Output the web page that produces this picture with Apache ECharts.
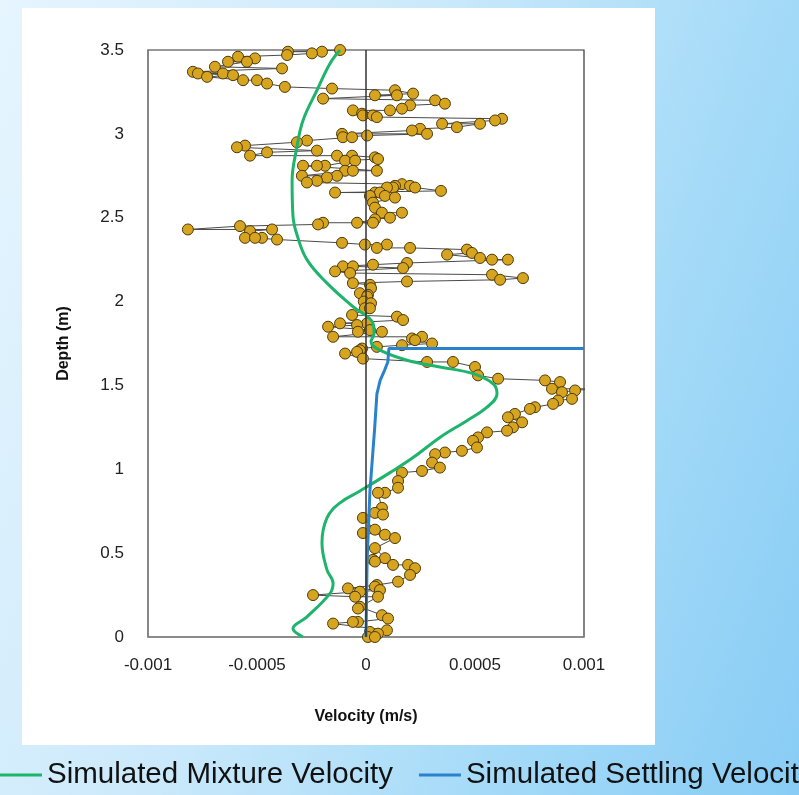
<!DOCTYPE html>
<html>
<head>
<meta charset="utf-8">
<script src="https://cdn.jsdelivr.net/npm/echarts@6/dist/echarts.min.js"></script>
<style>
  html, body { margin: 0; padding: 0; width: 799px; height: 795px; overflow: hidden; }
  body { background: linear-gradient(110deg, #e6f5fe 0%, #cbe9fb 40%, #a6dbf8 70%, #88ccf5 100%); position: relative; }
  #panel { position: absolute; left: 22px; top: 8px; width: 633px; height: 737px; background: #ffffff; }
  #chart { position: absolute; left: 0; top: 0; width: 799px; height: 795px; }
</style>
</head>
<body>
<div id="panel"></div>
<div id="chart"></div>
<script>
// Axis ticks
const xTickLabels = ['-0.001', '-0.0005', '0', '0.0005', '0.001'];
const yTickLabels = ['0', '0.5', '1', '1.5', '2', '2.5', '3', '3.5'];

// Measured velocity profile (depth in m, velocity in m/s), ordered from surface downwards
const measuredDepth = [
  3.50, 3.49, 3.49, 3.48, 3.47, 3.46, 3.45, 3.43, 3.43, 3.40,
  3.39, 3.37, 3.36, 3.36, 3.35, 3.34, 3.32, 3.32, 3.30, 3.28,
  3.27, 3.26, 3.24, 3.23, 3.23, 3.21, 3.20, 3.18, 3.17, 3.15,
  3.14, 3.14, 3.12, 3.11, 3.11, 3.10, 3.09, 3.08, 3.06, 3.06,
  3.04, 3.03, 3.02, 3.00, 3.00, 2.99, 2.98, 2.98, 2.96, 2.95,
  2.93, 2.92, 2.90, 2.89, 2.87, 2.87, 2.87, 2.86, 2.85, 2.84,
  2.84, 2.81, 2.81, 2.81, 2.78, 2.78, 2.78, 2.75, 2.75, 2.74,
  2.72, 2.71, 2.70, 2.69, 2.69, 2.68, 2.68, 2.68, 2.66, 2.65,
  2.65, 2.65, 2.63, 2.63, 2.62, 2.59, 2.56, 2.53, 2.53, 2.50,
  2.49, 2.47, 2.47, 2.47, 2.46, 2.45, 2.43, 2.43, 2.42, 2.38,
  2.38, 2.38, 2.37, 2.35, 2.34, 2.34, 2.32, 2.32, 2.31, 2.29,
  2.28, 2.26, 2.25, 2.25, 2.23, 2.22, 2.21, 2.21, 2.20, 2.18,
  2.17, 2.16, 2.14, 2.13, 2.12, 2.11, 2.10, 2.08, 2.05, 2.04,
  2.03, 2.00, 1.99, 1.96, 1.96, 1.92, 1.91, 1.89, 1.87, 1.87,
  1.86, 1.85, 1.83, 1.82, 1.82, 1.79, 1.79, 1.78, 1.77, 1.75,
  1.74, 1.73, 1.72, 1.71, 1.70, 1.69, 1.66, 1.64, 1.64, 1.61,
  1.56, 1.54, 1.53, 1.52, 1.48, 1.48, 1.47, 1.46, 1.42, 1.41,
  1.39, 1.37, 1.36, 1.33, 1.31, 1.28, 1.25, 1.23, 1.22, 1.19,
  1.17, 1.13, 1.11, 1.10, 1.09, 1.04, 1.01, 0.99, 0.98, 0.93,
  0.89, 0.86, 0.86, 0.77, 0.74, 0.73, 0.71, 0.64, 0.62, 0.61,
  0.59, 0.53, 0.47, 0.46, 0.45, 0.43, 0.43, 0.41, 0.37, 0.33,
  0.31, 0.30, 0.29, 0.28, 0.27, 0.25, 0.24, 0.24, 0.18, 0.17,
  0.13, 0.11, 0.09, 0.09, 0.08, 0.04, 0.03, 0.02, 0.00, 0.00
];
const measuredVelocity = [
  -0.000119, -0.000358, -0.000202, -0.000248, -0.000362, -0.000587, -0.000509, -0.000633, -0.000546, -0.000693,
  -0.000385, -0.000794, -0.000656, -0.000771, -0.000610, -0.000729, -0.000564, -0.000500, -0.000454, -0.000372,
  -0.000156, 0.000133, 0.000216, 0.000041, 0.000142, -0.000197, 0.000317, 0.000362, 0.000202, 0.000165,
  0.000110, -0.000060, -0.000018, -0.000014, 0.000032, 0.000050, 0.000624, 0.000592, 0.000349, 0.000523,
  0.000417, 0.000248, 0.000211, -0.000110, 0.000280, 0.000005, -0.000106, -0.000064, -0.000271, -0.000317,
  -0.000555, -0.000592, -0.000225, -0.000454, -0.000532, -0.000133, -0.000064, 0.000041, 0.000055, -0.000096,
  -0.000050, -0.000188, -0.000225, -0.000289, 0.000050, -0.000096, -0.000060, -0.000294, -0.000133, -0.000179,
  -0.000225, -0.000271, 0.000165, 0.000133, 0.000202, 0.000124, 0.000096, 0.000225, 0.000344, -0.000142,
  0.000041, 0.000064, 0.000018, 0.000087, 0.000133, 0.000032, 0.000041, 0.000073, 0.000165, 0.000110,
  0.000041, -0.000041, 0.000032, -0.000197, -0.000220, -0.000578, -0.000817, -0.000431, -0.000532, -0.000477,
  -0.000555, -0.000509, -0.000408, -0.000110, -0.000005, 0.000096, 0.000050, 0.000202, 0.000463, 0.000486,
  0.000372, 0.000523, 0.000578, 0.000651, 0.000188, 0.000032, -0.000106, -0.000060, 0.000170, -0.000142,
  -0.000073, 0.000578, 0.000720, 0.000615, 0.000188, -0.000060, 0.000018, 0.000023, -0.000028, 0.000009,
  0.000005, -0.000010, 0.000023, -0.000005, 0.000018, -0.000064, 0.000142, 0.000170, -0.000119, 0.000005,
  -0.000041, -0.000174, 0.000018, -0.000037, 0.000073, -0.000151, 0.000257, 0.000211, 0.000225, 0.000303,
  0.000165, 0.000050, -0.000018, -0.000028, -0.000041, -0.000096, -0.000014, 0.000280, 0.000399, 0.000500,
  0.000514, 0.000606, 0.000821, 0.000890, 0.000853, 0.001050, 0.000959, 0.000899, 0.000945, 0.000881,
  0.000858, 0.000775, 0.000752, 0.000683, 0.000651, 0.000716, 0.000674, 0.000647, 0.000555, 0.000514,
  0.000491, 0.000509, 0.000440, 0.000362, 0.000317, 0.000303, 0.000339, 0.000257, 0.000165, 0.000147,
  0.000147, 0.000087, 0.000055, 0.000073, 0.000041, 0.000078, -0.000014, 0.000041, -0.000014, 0.000087,
  0.000133, 0.000041, 0.000087, 0.000032, 0.000041, 0.000124, 0.000193, 0.000225, 0.000202, 0.000147,
  0.000050, 0.000041, -0.000083, 0.000064, -0.000028, -0.000243, -0.000050, 0.000055, -0.000028, -0.000037,
  0.000073, 0.000101, -0.000037, -0.000060, -0.000151, 0.000096, 0.000018, 0.000055, 0.000009, 0.000041
];

// Simulated mixture velocity profile
const mixtureDepth = [
  3.50, 3.42, 3.26, 3.08, 2.92, 2.72, 2.51, 2.40, 2.25, 2.11,
  1.97, 1.87, 1.81, 1.76, 1.71, 1.65, 1.61, 1.57, 1.51, 1.45,
  1.37, 1.29, 1.19, 1.07, 0.98, 0.87, 0.80, 0.71, 0.56, 0.40,
  0.32, 0.26, 0.12, 0.05, 0.00
];
const mixtureVelocity = [
  -0.000119, -0.000165, -0.000225, -0.000289, -0.000317, -0.000339, -0.000335, -0.000317, -0.000271, -0.000179,
  -0.000060, 0.000032, 0.000037, 0.000023, 0.000064, 0.000188, 0.000339, 0.000491, 0.000583, 0.000601,
  0.000555, 0.000463, 0.000339, 0.000216, 0.000110, -0.000028, -0.000119, -0.000179, -0.000202, -0.000179,
  -0.000151, -0.000165, -0.000271, -0.000335, -0.000289
];

// Simulated settling velocity profile
const settlingDepth = [0.00, 0.45, 0.87, 1.25, 1.45, 1.53, 1.59, 1.64, 1.72, 1.72];
const settlingVelocity = [0, 0.000005, 0.000018, 0.000040, 0.000050, 0.000065, 0.000085, 0.000100, 0.000105, 0.001000];

const zip = (xs, ys) => xs.map((x, i) => [x, ys[i]]);

const chart = echarts.init(document.getElementById('chart'), null, { renderer: 'canvas' });
const font = 'Liberation Sans, Arial, sans-serif';

chart.setOption({
  animation: false,
  textStyle: { fontFamily: font },
  grid: {
    left: 148, right: 215, top: 50, bottom: 158,
    show: true, borderColor: '#333', borderWidth: 1.2, backgroundColor: 'transparent'
  },
  xAxis: {
    type: 'value', min: -0.001, max: 0.001, interval: 0.0005,
    name: 'Velocity (m/s)', nameLocation: 'middle', nameGap: 72,
    nameTextStyle: { fontFamily: font, fontSize: 16, fontWeight: 'bold', color: '#111' },
    axisLine: { show: true, onZero: false, lineStyle: { color: '#888', width: 1.5 } },
    axisTick: { show: false },
    splitLine: { show: false },
    axisLabel: {
      fontFamily: font, fontSize: 17, color: '#222', margin: 20,
      formatter: (v, i) => xTickLabels[i]
    }
  },
  yAxis: {
    type: 'value', min: 0, max: 3.5, interval: 0.5,
    name: 'Depth (m)', nameLocation: 'middle', nameGap: 76,
    nameTextStyle: { fontFamily: font, fontSize: 16, fontWeight: 'bold', color: '#111' },
    axisLine: { show: true, onZero: false, lineStyle: { color: '#888', width: 1.5 } },
    axisTick: { show: false },
    splitLine: { show: false },
    axisLabel: {
      fontFamily: font, fontSize: 17, color: '#222', margin: 24,
      formatter: (v, i) => yTickLabels[i]
    }
  },
  legend: {
    left: -5, top: 755, width: 1400,
    icon: 'rect', itemWidth: 42, itemHeight: 3, itemGap: 26,
    textStyle: { fontFamily: font, fontSize: 29.5, color: '#111' },
    data: ['Simulated Mixture Velocity', 'Simulated Settling Velocity']
  },
  series: [
    {
      name: 'Measured Velocity',
      type: 'line',
      data: zip(measuredVelocity, measuredDepth),
      clip: true,
      symbol: 'circle', symbolSize: 11, showAllSymbol: true,
      lineStyle: { color: '#4a4a4a', width: 1 },
      itemStyle: { color: '#d6a41e', borderColor: '#4e3b0c', borderWidth: 1 },
      z: 2,
      markLine: {
        silent: true, symbol: 'none', label: { show: false },
        lineStyle: { color: '#333', width: 1.5, type: 'solid' },
        data: [{ xAxis: 0 }]
      }
    },
    {
      name: 'Simulated Mixture Velocity',
      type: 'line',
      data: zip(mixtureVelocity, mixtureDepth),
      smooth: 0.4,
      symbol: 'none',
      lineStyle: { color: '#1fb46c', width: 3 },
      itemStyle: { color: '#1fb46c' },
      z: 3
    },
    {
      name: 'Simulated Settling Velocity',
      type: 'line',
      data: zip(settlingVelocity, settlingDepth),
      symbol: 'none',
      lineStyle: { color: '#2a82cc', width: 3 },
      itemStyle: { color: '#2a82cc' },
      z: 4
    }
  ]
});
</script>
</body>
</html>
